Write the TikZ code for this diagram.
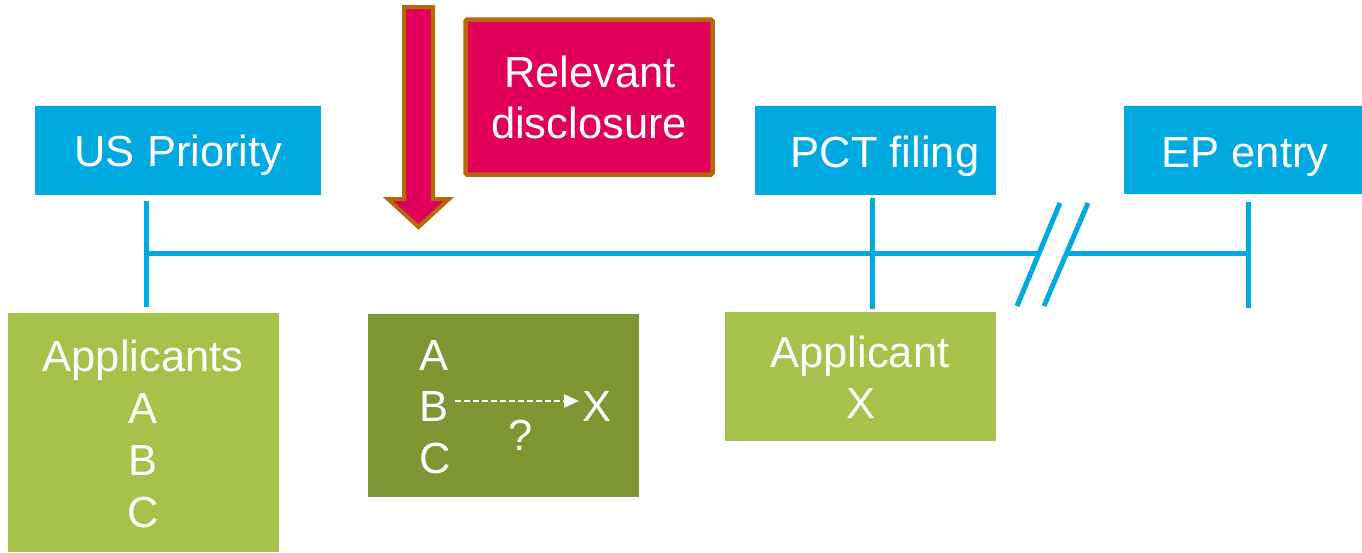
\documentclass[tikz,border=0pt]{standalone}
\usepackage{fontspec}
\setmainfont{Liberation Sans}
\usetikzlibrary{arrows.meta}
\definecolor{tlblue}{RGB}{0,169,224}
\definecolor{lgreen}{RGB}{166,194,74}
\definecolor{olive}{RGB}{126,150,51}
\definecolor{magen}{RGB}{224,0,90}
\definecolor{brownb}{RGB}{184,104,8}
\tikzset{
  bluebox/.style={fill=tlblue, draw=none, inner sep=0, minimum width=#1},
  greenbox/.style={fill=lgreen, draw=none, inner sep=0},
  olivebox/.style={fill=olive, draw=none, inner sep=0},
  lbl/.style={text=white, inner sep=0, anchor=base, font=\fontsize{43.5}{51}\selectfont},
  lblw/.style={lbl, anchor=base west},
  tl/.style={draw=tlblue, line width=5pt},
}
\begin{document}
\begin{tikzpicture}[x=1pt,y=-1pt]
\useasboundingbox (0,0) rectangle (1362,552);
% blue boxes
\node[bluebox=286pt, minimum height=89pt] (usb) at (178,150.5) {};
\node[bluebox=241pt, minimum height=89pt] (pctb) at (875.5,150.5) {};
\node[bluebox=238pt, minimum height=88pt] (epb) at (1243,150) {};
\node[lbl] (ust) at (178.5,166) {US Priority};
\node[lbl] (pctt) at (885,167) {PCT filing};
\node[lbl] (ept) at (1245,167) {EP entry};
% relevant disclosure
\node[fill=magen, draw=brownb, line width=4.5pt, rounded corners=1.5pt, minimum width=247pt, minimum height=155pt, inner sep=0] (rel) at (589,97) {};
\node[lbl] (relt1) at (590,87) {Relevant};
\node[lbl] (relt2) at (589,138) {disclosure};
% big arrow
\draw[fill=magen, draw=brownb, line width=4pt, line join=miter]
  (404,7) -- (433,7) -- (433,199) -- (449,199) -- (418.5,227) -- (388,199) -- (404,199) -- cycle;
% timeline
\coordinate (p1) at (146,253);
\coordinate (p2) at (1037,253);
\coordinate (p3) at (1068,253);
\coordinate (p4) at (1248,253);
\coordinate (t1a) at (146,201); \coordinate (t1b) at (146,307);
\coordinate (t2a) at (872,198); \coordinate (t2b) at (872,309);
\coordinate (t3a) at (1248,202); \coordinate (t3b) at (1248,308);
\coordinate (s1a) at (1060,203); \coordinate (s1b) at (1017,306);
\coordinate (s2a) at (1088,203); \coordinate (s2b) at (1044,306);
\draw[tl] (p1) -- (p2);
\draw[tl] (p3) -- (p4);
\draw[tl] (t1a) -- (t1b);
\draw[tl] (t2a) -- (t2b);
\draw[tl] (t3a) -- (t3b);
\draw[tl] (s1a) -- (s1b);
\draw[tl] (s2a) -- (s2b);
% green boxes
\node[greenbox, minimum width=271pt, minimum height=239pt] (appb) at (143.5,432.5) {};
\node[lbl] (appt) at (143,371) {Applicants};
\node[lbl] (appA) at (143,423) {A};
\node[lbl] (appB) at (143,475) {B};
\node[lbl] (appC) at (143,527) {C};
\node[olivebox, minimum width=271pt, minimum height=183pt] (midb) at (503.5,405.5) {};
\node[lblw] (mA) at (419,370) {A};
\node[lblw] (mB) at (419,421) {B};
\node[lblw] (mC) at (419,473) {C};
\node[lblw] (mX) at (582,421) {X};
\node[lbl] (mq) at (521,450) {?};
\draw[white, line width=2.2pt, dash pattern=on 6pt off 3pt, -{Triangle[length=15pt,width=13pt]}]
  ([xshift=7pt,yshift=20pt]mB.base east) -- ([xshift=-3pt,yshift=20pt]mX.base west);
\node[greenbox, minimum width=271pt, minimum height=129pt] (axb) at (860.5,376.5) {};
\node[lbl] (axt) at (860,367) {Applicant};
\node[lbl] (axx) at (861,418) {X};
\end{tikzpicture}
\end{document}
